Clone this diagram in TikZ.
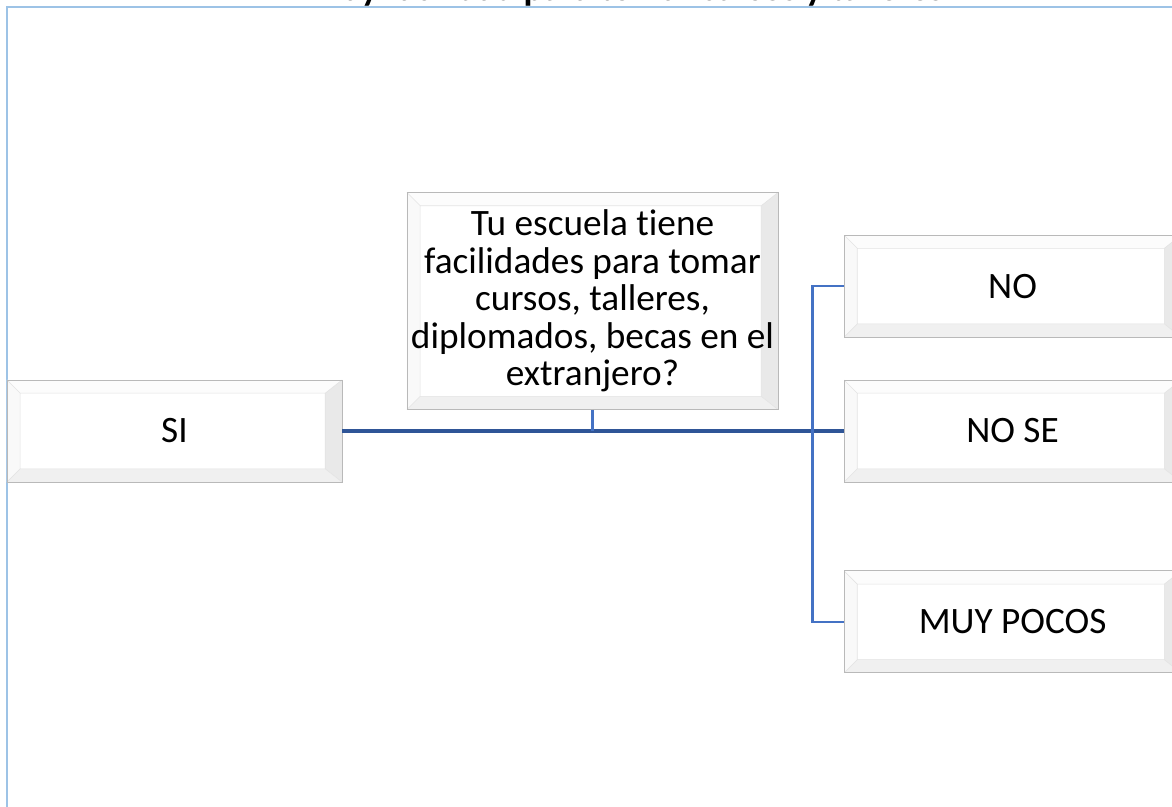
\documentclass[tikz,border=0pt]{standalone}
\usepackage{fontspec}
\setmainfont{Carlito}[Ligatures=NoCommon]
\usetikzlibrary{positioning,calc}
\definecolor{frameblue}{RGB}{157,195,230}
\definecolor{trunkblue}{RGB}{47,85,151}
\definecolor{branchblue}{RGB}{68,114,196}

\tikzset{
  bevelbox/.style={draw=gray!55, line width=0.6pt, fill=white, inner sep=0pt,
    font=\fontsize{26.5}{26.6}\selectfont, align=center,
    path picture={
      \coordinate (bsw) at (path picture bounding box.south west);
      \coordinate (bne) at (path picture bounding box.north east);
      \coordinate (bnw) at (bsw |- bne);
      \coordinate (bse) at (bne |- bsw);
      \coordinate (isw) at ($(bsw)+(0.33cm,0.33cm)$);
      \coordinate (ine) at ($(bne)+(-0.42cm,-0.33cm)$);
      \coordinate (inw) at (isw |- ine);
      \coordinate (ise) at (ine |- isw);
      \fill[gray!5] (bsw) -- (bnw) -- (inw) -- (isw) -- cycle;
      \fill[gray!2] (bnw) -- (bne) -- (ine) -- (inw) -- cycle;
      \fill[gray!17] (bne) -- (bse) -- (ise) -- (ine) -- cycle;
      \fill[gray!12] (bse) -- (bsw) -- (isw) -- (ise) -- cycle;
      \draw[gray!22, line width=0.4pt] (isw) rectangle (ine)
        (bsw) -- (isw) (bnw) -- (inw) (bne) -- (ine) (bse) -- (ise);
    }},
  sidebox/.style={bevelbox, minimum width=8.425cm, minimum height=2.55cm},
  trunk/.style={trunkblue, line width=2.4pt},
  branch/.style={branchblue, line width=1.6pt},
}

\begin{document}
\begin{tikzpicture}[x=0.025cm, y=-0.025cm]
    \useasboundingbox (0,0) rectangle (1172,807);
    \clip (0,0) rectangle (1172,807);
    \draw[frameblue, line width=1.6pt] (1200,7) -| (7,840);
    \node(title) [anchor=base, font=\fontsize{26}{28}\selectfont\bfseries] at (632,1) {Hay facilidad para tomar cursos y talleres};

    \node(SI) [bevelbox, minimum width=8.375cm, minimum height=2.55cm] at (174.5,431) {SI};
    \node(Q) [bevelbox, minimum width=9.275cm, minimum height=5.425cm, anchor=south] at (592.5,410)
      {Tu escuela tiene\\facilidades para tomar\\cursos, talleres,\\diplomados, becas en el\\extranjero?};
    \node(NOSE) [sidebox, right=12.525cm of SI] {NO SE};
    \node(NO) [sidebox, above=1.05cm of NOSE] {NO};
    \node(MP) [sidebox, below=2.2cm of NOSE] {MUY POCOS};
    \coordinate(fork) at ($(NOSE.west)+(-31,0)$);

    \draw[trunk](SI.east) -- (NOSE.west);
    \draw[branch](Q.south) -- (Q.south |- SI.east);
    \draw[branch](NO.west) -| (fork) |- (MP.west);
\end{tikzpicture}
\end{document}
